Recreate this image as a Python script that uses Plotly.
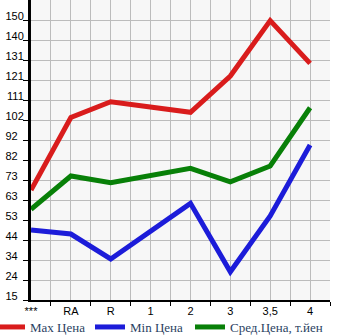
import plotly.graph_objects as go

categories = ["***", "RA", "R", "1", "2", "3", "3,5", "4"]
point_cats = ["***", "RA", "R", "2", "3", "3,5", "4"]
max_price = [68.0, 103.0, 110.6, 105.5, 123.0, 149.7, 129.1]
min_price = [48.7, 46.8, 34.8, 61.6, 28.6, 55.5, 89.7]
avg_price = [58.7, 74.8, 71.6, 78.5, 72.0, 79.6, 107.7]
y_tick_labels = ["15", "24", "34", "44", "53", "63", "73", "82", "92",
                 "102", "111", "121", "131", "140", "150"]

y_min, y_max_label = 15, 150
step = (y_max_label - y_min) / (len(y_tick_labels) - 1)
y_tickvals = [y_min + k * step for k in range(len(y_tick_labels))]
# left-align labels by padding with figure spaces
y_ticktext = [t + "\u2007" * (3 - len(t)) for t in y_tick_labels]

xs = [categories.index(c) for c in point_cats]

series = [
    ("Max Цена", max_price, "#d91c1c", "legend"),
    ("Min Цена", min_price, "#1c1cd9", "legend2"),
    ("Сред.Цена, т.йен", avg_price, "#088008", "legend3"),
]

ML, MR, MT, MB = 31, 15, 0, 35
W, H = 345, 335
PW = W - ML - MR

fig = go.Figure()
for name, vals, col, leg in series:
    fig.add_trace(go.Scatter(
        x=xs, y=vals, mode="lines", name=name,
        line=dict(color=col, width=5),
        legend=leg,
    ))

legend_page_x = {"legend": -10, "legend2": 90, "legend3": 190}
legend_common = dict(
    orientation="h", xanchor="left", y=-0.09, yanchor="middle",
    font=dict(family="Liberation Serif", size=13),
    itemwidth=30, bgcolor="rgba(0,0,0,0)",
    itemclick=False, itemdoubleclick=False,
)

fig.update_layout(
    width=W, height=H,
    margin=dict(l=ML, r=MR, t=MT, b=MB, autoexpand=False),
    paper_bgcolor="white",
    plot_bgcolor="#f7f7f7",
    showlegend=True,
    legend=dict(x=(legend_page_x["legend"] - ML) / PW, **legend_common),
    legend2=dict(x=(legend_page_x["legend2"] - ML) / PW, **legend_common),
    legend3=dict(x=(legend_page_x["legend3"] - ML) / PW, **legend_common),
)

fig.update_xaxes(
    range=[0, 7.5],
    tickmode="array", tickvals=list(range(len(categories))), ticktext=categories,
    ticks="outside", ticklen=0,
    showgrid=True, gridcolor="#bcbcbc", gridwidth=1,
    minor=dict(tickvals=[i + 0.5 for i in range(len(categories))],
               ticks="outside", ticklen=4, tickcolor="black",
               showgrid=True, gridcolor="#bcbcbc", gridwidth=1),
    showline=True, linecolor="black", linewidth=2,
    tickfont=dict(family="Liberation Sans", size=11, color="black"),
    zeroline=False, fixedrange=True,
)
fig.update_yaxes(
    range=[y_min, y_max_label + step],
    tickmode="array", tickvals=y_tickvals, ticktext=y_ticktext,
    ticks="outside", ticklen=5, tickcolor="black",
    ticklabelshift=-4, ticklabelstandoff=-3,
    showgrid=True, gridcolor="#bcbcbc", gridwidth=1,
    showline=True, linecolor="black", linewidth=3,
    tickfont=dict(family="Liberation Sans", size=11, color="black"),
    zeroline=False, fixedrange=True,
)

fig.write_html("out.html", config={"displayModeBar": False})
